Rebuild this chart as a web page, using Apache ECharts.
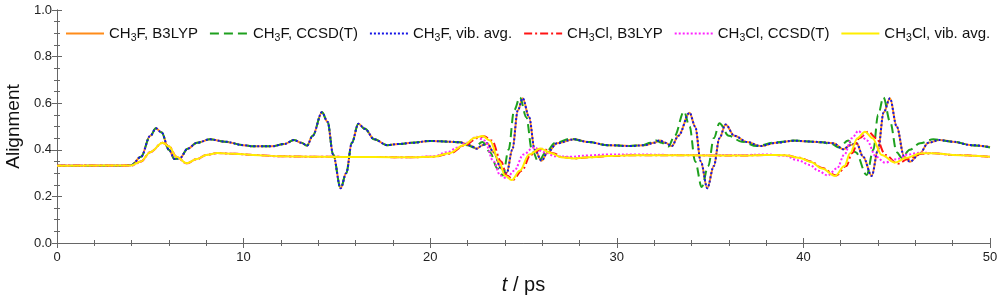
<!DOCTYPE html>
<html>
<head>
<meta charset="utf-8">
<script src="https://cdn.jsdelivr.net/npm/echarts@6/dist/echarts.min.js"></script>
<style>html,body{margin:0;padding:0;background:#fff}#c{width:1000px;height:298px}</style>
</head>
<body>
<div id="c"></div>
<script>
// [t (ps), alignment]
const ch3fVib = [[0,0.332],[3.5,0.332],[4.0,0.335],[4.5,0.37],[5.0,0.46],[5.3,0.492],[5.6,0.475],[6.0,0.40],[6.3,0.36],[6.6,0.365],[7.0,0.405],[7.5,0.43],[8.2,0.445],[9.0,0.435],[10.0,0.42],[10.5,0.415],[11.5,0.415],[12.2,0.425],[12.7,0.442],[13.1,0.43],[13.4,0.418],[13.7,0.46],[14.2,0.561],[14.5,0.52],[14.8,0.38],[15.2,0.235],[15.5,0.30],[15.8,0.43],[16.15,0.512],[16.5,0.49],[17.0,0.445],[17.7,0.42],[18.3,0.425],[19.0,0.43],[20.0,0.438],[21.0,0.435],[21.6,0.432],[22.1,0.42],[22.5,0.405],[22.8,0.42],[23.05,0.428],[23.4,0.39],[23.8,0.32],[24.1,0.30],[24.4,0.40],[24.7,0.57],[24.96,0.621],[25.3,0.54],[25.6,0.40],[25.97,0.353],[26.3,0.39],[26.8,0.428],[27.7,0.445],[28.5,0.433],[29.5,0.42],[30.7,0.416],[31.5,0.42],[32.0,0.43],[32.3,0.44],[32.6,0.43],[32.95,0.416],[33.3,0.46],[33.9,0.559],[34.2,0.50],[34.5,0.35],[34.85,0.235],[35.2,0.33],[35.5,0.45],[35.83,0.509],[36.3,0.46],[37.0,0.433],[37.7,0.416],[38.5,0.43],[39.5,0.439],[40.5,0.435],[41.0,0.432],[41.6,0.428],[42.15,0.402],[42.5,0.42],[42.85,0.428],[43.2,0.37],[43.66,0.288],[44.0,0.40],[44.3,0.56],[44.64,0.621],[45.0,0.50],[45.4,0.37],[45.71,0.349],[46.2,0.38],[46.7,0.43],[47.3,0.442],[48.0,0.435],[49.0,0.42],[50.0,0.412]];
const ch3fB3lyp = [[0,0.332],[3.5,0.332],[4.0,0.335],[4.5,0.37],[5.0,0.46],[5.3,0.492],[5.6,0.475],[6.0,0.40],[6.3,0.36],[6.6,0.365],[7.0,0.405],[7.5,0.43],[8.2,0.445],[9.0,0.435],[10.0,0.42],[10.5,0.415],[11.5,0.415],[12.2,0.425],[12.7,0.442],[13.1,0.43],[13.4,0.418],[13.7,0.46],[14.2,0.561],[14.5,0.52],[14.8,0.38],[15.2,0.235],[15.5,0.30],[15.8,0.43],[16.15,0.512],[16.5,0.49],[17.0,0.445],[17.7,0.42],[18.3,0.425],[19.0,0.43],[20.0,0.438],[21.0,0.435],[21.6,0.432],[22.1,0.42],[22.5,0.405],[22.8,0.42],[23.05,0.428],[23.4,0.39],[23.8,0.32],[24.1,0.30],[24.4,0.40],[24.7,0.57],[24.96,0.621],[25.3,0.54],[25.6,0.40],[25.97,0.353],[26.3,0.39],[26.8,0.428],[27.7,0.445],[28.5,0.433],[29.5,0.42],[30.7,0.416],[31.5,0.42],[32.0,0.43],[32.3,0.44],[32.6,0.43],[32.95,0.416],[33.3,0.46],[33.9,0.559],[34.2,0.50],[34.5,0.35],[34.85,0.235],[35.2,0.33],[35.5,0.45],[35.83,0.509],[36.3,0.46],[37.0,0.433],[37.7,0.416],[38.5,0.43],[39.5,0.439],[40.5,0.435],[41.0,0.432],[41.6,0.428],[42.15,0.402],[42.5,0.42],[42.85,0.428],[43.2,0.37],[43.66,0.288],[44.0,0.40],[44.3,0.56],[44.64,0.621],[45.0,0.50],[45.4,0.37],[45.71,0.349],[46.2,0.38],[46.7,0.43],[47.3,0.442],[48.0,0.435],[49.0,0.42],[50.0,0.412]];
const ch3fCcsd = [[0,0.332],[3.5,0.332],[4.0,0.335],[4.5,0.37],[5.0,0.46],[5.3,0.492],[5.6,0.475],[6.0,0.40],[6.3,0.36],[6.6,0.365],[7.0,0.405],[7.5,0.43],[8.2,0.445],[9.0,0.435],[10.0,0.42],[10.5,0.415],[11.5,0.415],[12.2,0.425],[12.7,0.442],[13.1,0.43],[13.4,0.418],[13.7,0.46],[14.2,0.561],[14.5,0.52],[14.8,0.38],[15.2,0.235],[15.5,0.30],[15.8,0.43],[16.15,0.512],[16.5,0.49],[17.0,0.445],[17.7,0.42],[18.3,0.425],[19.0,0.43],[20.0,0.438],[21.0,0.435],[21.6,0.432],[22.0,0.42],[22.35,0.41],[22.8,0.433],[23.2,0.39],[23.6,0.32],[23.9,0.29],[24.2,0.40],[24.5,0.57],[24.81,0.625],[25.15,0.54],[25.45,0.40],[25.8,0.349],[26.2,0.39],[26.7,0.43],[27.5,0.447],[28.5,0.433],[29.5,0.42],[30.7,0.416],[31.4,0.42],[31.8,0.43],[32.1,0.44],[32.4,0.43],[32.76,0.414],[33.1,0.46],[33.6,0.564],[33.9,0.50],[34.2,0.35],[34.55,0.24],[34.9,0.33],[35.2,0.45],[35.5,0.514],[36.0,0.46],[36.7,0.435],[37.5,0.416],[38.5,0.432],[39.5,0.44],[40.5,0.435],[41.0,0.432],[41.5,0.425],[41.9,0.41],[42.4,0.44],[42.8,0.39],[43.39,0.292],[43.75,0.40],[44.0,0.55],[44.29,0.625],[44.65,0.52],[45.0,0.39],[45.27,0.365],[45.7,0.40],[46.25,0.428],[46.96,0.445],[48.0,0.435],[49.0,0.42],[50.0,0.41]];
const ch3clB3lyp = [[0,0.332],[4.0,0.333],[4.5,0.35],[5.0,0.39],[5.66,0.43],[6.0,0.415],[6.4,0.37],[6.95,0.342],[7.5,0.36],[8.0,0.378],[8.6,0.386],[9.5,0.383],[10.5,0.378],[12.0,0.372],[14.0,0.37],[17.0,0.369],[19.0,0.368],[20.2,0.37],[21.0,0.383],[21.9,0.42],[22.5,0.45],[22.88,0.458],[23.3,0.44],[23.8,0.35],[24.1,0.29],[24.45,0.272],[24.9,0.31],[25.4,0.38],[26.0,0.405],[26.6,0.385],[27.1,0.368],[27.8,0.363],[28.5,0.368],[29.5,0.373],[31.0,0.377],[33.0,0.377],[35.0,0.376],[37.0,0.376],[38.0,0.378],[39.0,0.377],[39.8,0.366],[40.4,0.35],[41.0,0.322],[41.75,0.29],[42.3,0.33],[42.6,0.385],[43.0,0.45],[43.48,0.478],[43.9,0.45],[44.4,0.378],[45.05,0.34],[45.6,0.36],[46.3,0.383],[47.0,0.385],[48.0,0.378],[50.0,0.37]];
const ch3clCcsd = [[0,0.332],[4.0,0.333],[4.5,0.35],[5.0,0.39],[5.66,0.43],[6.0,0.415],[6.4,0.37],[6.95,0.342],[7.5,0.36],[8.0,0.378],[8.6,0.386],[9.5,0.383],[10.5,0.378],[12.0,0.372],[14.0,0.37],[17.0,0.369],[19.0,0.368],[20.2,0.372],[20.9,0.39],[21.5,0.41],[21.96,0.43],[22.49,0.456],[22.9,0.44],[23.4,0.35],[23.75,0.29],[24.1,0.278],[24.5,0.31],[25.0,0.38],[25.55,0.41],[26.1,0.39],[26.7,0.372],[27.5,0.37],[28.5,0.376],[29.5,0.38],[31.0,0.38],[33.0,0.378],[35.0,0.377],[37.0,0.378],[38.0,0.38],[39.0,0.375],[39.7,0.355],[40.35,0.335],[40.8,0.31],[41.3,0.29],[41.8,0.32],[42.2,0.38],[42.6,0.45],[42.95,0.481],[43.4,0.44],[43.9,0.37],[44.37,0.345],[45.0,0.36],[45.6,0.38],[46.25,0.388],[47.0,0.386],[48.0,0.378],[50.0,0.37]];
const ch3clVib = [[0,0.332],[4.0,0.333],[4.5,0.35],[5.0,0.39],[5.66,0.43],[6.0,0.415],[6.4,0.37],[6.95,0.342],[7.5,0.36],[8.0,0.378],[8.6,0.386],[9.5,0.383],[10.5,0.378],[12.0,0.372],[14.0,0.37],[17.0,0.369],[19.0,0.368],[20.2,0.37],[21.0,0.385],[21.8,0.42],[22.4,0.452],[22.8,0.459],[23.2,0.44],[23.7,0.35],[24.0,0.29],[24.37,0.27],[24.8,0.31],[25.3,0.38],[25.9,0.406],[26.5,0.385],[27.0,0.368],[27.7,0.363],[28.5,0.368],[29.5,0.373],[31.0,0.377],[33.0,0.377],[35.0,0.376],[37.0,0.376],[38.0,0.378],[39.0,0.377],[39.8,0.365],[40.4,0.348],[41.0,0.32],[41.7,0.288],[42.2,0.33],[42.5,0.385],[42.9,0.45],[43.3,0.478],[43.7,0.45],[44.2,0.378],[44.9,0.345],[45.5,0.365],[46.3,0.385],[47.0,0.385],[48.0,0.378],[50.0,0.37]];

const seriesNames = ['CH3F, B3LYP','CH3F, CCSD(T)','CH3F, vib. avg.','CH3Cl, B3LYP','CH3Cl, CCSD(T)','CH3Cl, vib. avg.'];
const xTicks = [0,10,20,30,40,50];
const yTicks = [0.0,0.2,0.4,0.6,0.8,1.0];

const seriesData = [ch3fB3lyp, ch3fCcsd, ch3fVib, ch3clB3lyp, ch3clCcsd, ch3clVib];
const styles = [
  {color:'#ff8c1a', type:'solid'},
  {color:'#1ea01e', type:[9,5]},
  {color:'#1414e6', type:[2,2]},
  {color:'#ff1414', type:[8,3,2,3]},
  {color:'#ff22ff', type:[2,2]},
  {color:'#ffee00', type:'solid'}
];

const chart = echarts.init(document.getElementById('c'), null, {renderer:'canvas'});
const axisCommon = {
  type:'value', min:0,
  axisLine:{show:true, lineStyle:{color:'#666', width:1}},
  axisTick:{show:true, inside:true, length:5, lineStyle:{color:'#666'}},
  splitLine:{show:false}
};
const labelFont = {color:'#222', fontSize:13, fontFamily:'Liberation Sans'};
chart.setOption({
  animation:false,
  backgroundColor:'#fff',
  grid:{left:57, right:10, top:10, bottom:55, containLabel:false, outerBoundsMode:'none'},
  legend:{
    left:60, top:21, width:940, itemWidth:38, itemHeight:14, itemGap:11,
    data: seriesNames,
    itemStyle:{color:'rgba(0,0,0,0)', borderWidth:0, opacity:0},
    formatter: n => '{n|CH}{s|3}{n|' + n.replace(/^CH3/,'') + '}',
    textStyle:{color:'#111', fontSize:15, fontFamily:'Liberation Sans',
      rich:{ n:{fontSize:15, fontFamily:'Liberation Sans', color:'#111', lineHeight:20},
             s:{fontSize:10.5, fontFamily:'Liberation Sans', color:'#111', verticalAlign:'bottom', lineHeight:12} }}
  },
  xAxis:[
    Object.assign({}, axisCommon, {max:50, interval:10, position:'bottom',
      minorTick:{show:true, splitNumber:5, length:3, lineStyle:{color:'#666'}},
      axisLabel:Object.assign({margin:8, formatter: v => xTicks.includes(v) ? String(v) : ''}, labelFont),
      name:'{i|t} / ps', nameLocation:'middle', nameGap:32,
      nameTextStyle:{fontSize:20, fontFamily:'Liberation Sans', color:'#111',
        rich:{i:{fontStyle:'italic', fontSize:20, fontFamily:'Liberation Sans', color:'#111'}}}}),
    Object.assign({}, axisCommon, {max:50, interval:10, position:'top',
      minorTick:{show:true, splitNumber:5, length:3, lineStyle:{color:'#666'}},
      axisLabel:{show:false}})
  ],
  yAxis:[
    Object.assign({}, axisCommon, {max:1, interval:0.2, position:'left',
      minorTick:{show:true, splitNumber:4, length:3, lineStyle:{color:'#666'}},
      axisLabel:Object.assign({margin:5, formatter: v => v.toFixed(1)}, labelFont),
      name:'Alignment', nameLocation:'middle', nameGap:30,
      nameTextStyle:{fontSize:19, fontFamily:'Liberation Sans', color:'#111'}}),
    Object.assign({}, axisCommon, {max:1, interval:0.2, position:'right',
      minorTick:{show:true, splitNumber:4, length:3, lineStyle:{color:'#666'}},
      axisLabel:{show:false}})
  ],
  series: seriesNames.map((name, i) => ({
    name, type:'line', data: seriesData[i], xAxisIndex:0, yAxisIndex:0,
    showSymbol:false, symbol:'none', smooth:0.35, smoothMonotone:'x',
    lineStyle:{color:styles[i].color, type:styles[i].type, width:2},
    itemStyle:{color:styles[i].color}
  }))
});
</script>
</body>
</html>
